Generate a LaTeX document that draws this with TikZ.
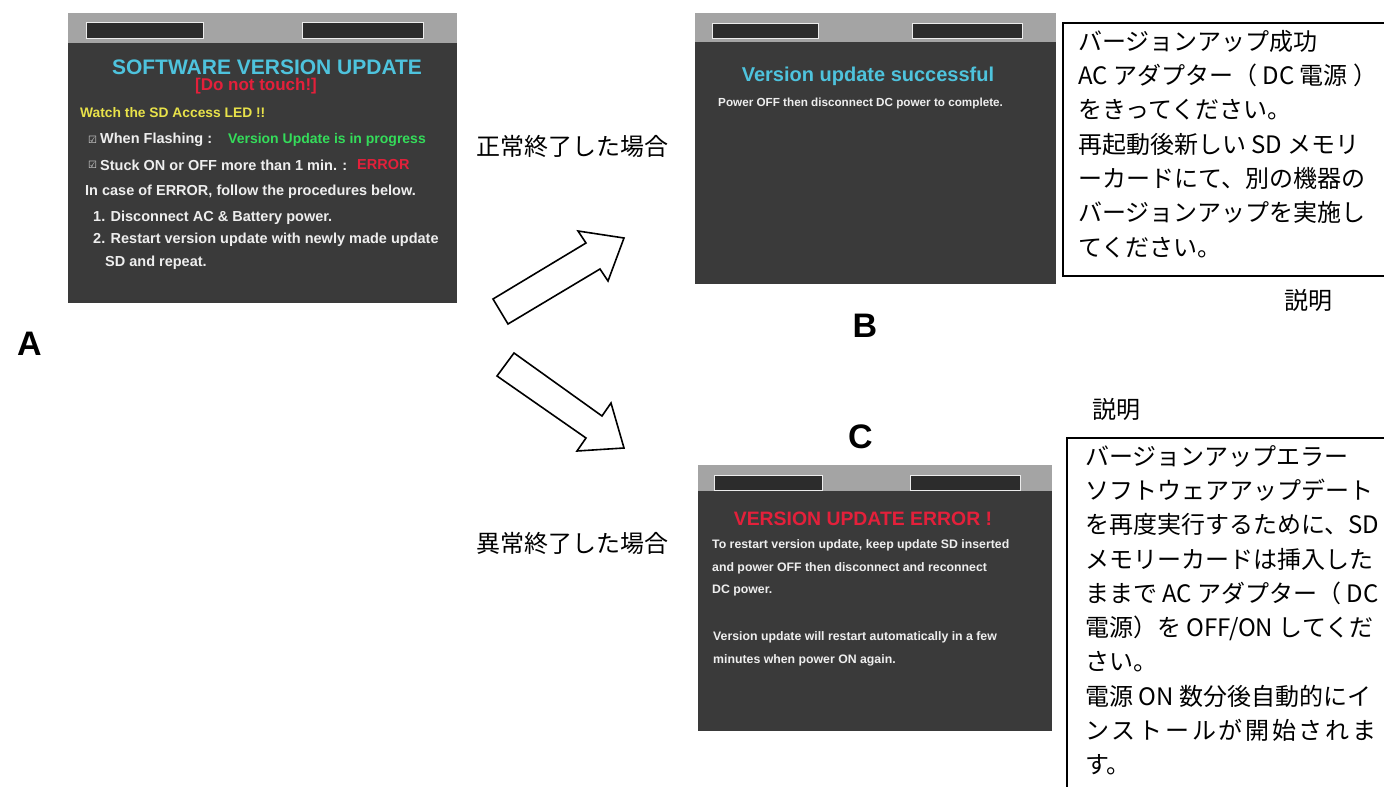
\documentclass[tikz,border=0pt]{standalone}
\usepackage{fontspec}
\setmainfont{Liberation Sans}
\newfontfamily\jpfont{Noto Sans CJK JP}
\newfontfamily\symfont{DejaVu Sans}
\newcommand{\fsz}[1]{\fontsize{#1}{#1}\selectfont}
\definecolor{scrbg}{HTML}{3A3A3A}
\definecolor{scrbar}{HTML}{A4A4A4}
\definecolor{slotc}{HTML}{2C2C2C}
\definecolor{tcyan}{HTML}{4EC3DD}
\definecolor{tred}{HTML}{E3203A}
\definecolor{tyellow}{HTML}{E8E24A}
\definecolor{tgreen}{HTML}{34DC5A}
\definecolor{twhite}{HTML}{EEEEEE}
\tikzset{
  scr/.style={fill=scrbg},
  barc/.style={fill=scrbar},
  slotbox/.style={fill=slotc, draw=white!85!gray, line width=0.8pt},
  stxt/.style={inner sep=0pt, anchor=west, text=twhite, font=\bfseries\fsz{14.5}},
  btxt/.style={inner sep=0pt, anchor=west, text=twhite, font=\bfseries\fsz{12.3}},
  ttl/.style={inner sep=0pt, font=\bfseries\fsz{20}},
  chk/.style={inner sep=0pt, anchor=west, text=twhite!80!gray, font=\symfont\fsz{10}},
  jlbl/.style={inner sep=0pt, font=\jpfont\fsz{24}},
  jbox/.style={inner sep=0pt, anchor=north west, align=left, font=\jpfont\fontsize{24}{34.3}\selectfont},
  letter/.style={inner sep=0pt, font=\bfseries\fsz{34}},
  descbox/.style={draw=black, line width=1.5pt},
  blockarrow/.style={draw=black, fill=white, line width=1.6pt, line join=miter}
}
\begin{document}
\begin{tikzpicture}[x=1pt,y=-1pt]
\useasboundingbox (0,0) rectangle (1384,787);
\fill[white] (0,0) rectangle (1384,787);

% ---------- Screen A ----------
\fill[scr] (68,13) rectangle (457,303);
\fill[barc] (68,13) rectangle (457,43);
\filldraw[slotbox] (86,22) rectangle (203,38);
\filldraw[slotbox] (302,22) rectangle (423,38);
\node[ttl, text=tcyan, font=\bfseries\fsz{21}] (aTitle) at (267,67) {SOFTWARE VERSION UPDATE};
\node[inner sep=0pt, text=tred, font=\bfseries\fsz{17}] (aTouch) at (256,86) {[Do not touch!]};
\node[stxt, text=tyellow, font=\bfseries\fsz{13.8}] (aWatch) at (80,113) {Watch the SD Access LED !!};
\node[chk] (aChk1) at (88,140) {☑};
\node[stxt] (aFlash) at (100,140) {When Flashing :};
\node[stxt, text=tgreen, font=\bfseries\fsz{14}] (aProg) at (228,140) {Version Update is in progress};
\node[chk] (aChk2) at (88,165) {☑};
\node[stxt] (aStuck) at (100,165) {Stuck ON or OFF more than 1 min. :};
\node[stxt, text=tred] (aErr) at (357,165) {ERROR};
\node[stxt] (aCase) at (85,192) {In case of ERROR, follow the procedures below.};
\node[stxt] (aOne) at (93,218) {1. Disconnect AC \& Battery power.};
\node[stxt] (aTwo) at (93,240) {2. Restart version update with newly made update};
\node[stxt] (aSD) at (105,263) {SD and repeat.};

% ---------- Screen B ----------
\fill[scr] (695,13) rectangle (1056,284);
\fill[barc] (695,13) rectangle (1056,42);
\filldraw[slotbox] (712,23) rectangle (818,38);
\filldraw[slotbox] (912,23) rectangle (1022,38);
\node[ttl, text=tcyan] (bTitle) at (868,76) {Version update successful};
\node[btxt, font=\bfseries\fsz{11.7}] (bPower) at (718,103) {Power OFF then disconnect DC power to complete.};

% ---------- Screen C ----------
\fill[scr] (698,465) rectangle (1052,731);
\fill[barc] (698,465) rectangle (1052,491);
\filldraw[slotbox] (714,475) rectangle (822,490);
\filldraw[slotbox] (910,475) rectangle (1020,490);
\node[ttl, text=tred, font=\bfseries\fsz{19.4}] (cTitle) at (863,519) {VERSION UPDATE ERROR !};
\node[btxt] (cL1) at (712,545) {To restart version update, keep update SD inserted};
\node[btxt] (cL2) at (712,568) {and power OFF then disconnect and reconnect};
\node[btxt] (cL3) at (712,590) {DC power.};
\node[btxt] (cL4) at (713,637) {Version update will restart automatically in a few};
\node[btxt] (cL5) at (713,660) {minutes when power ON again.};

% ---------- Letters and labels ----------
\node[letter] (lA) at (29.5,344) {A};
\node[letter] (lB) at (865,326) {B};
\node[letter] (lC) at (860.5,437) {C};
\node[jlbl] (okLbl) at (572,146) {正常終了した場合};
\node[jlbl] (ngLbl) at (572,543) {異常終了した場合};
\node[jlbl] (descB) at (1308.5,300) {説明};
\node[jlbl] (descC) at (1116.5,409) {説明};

% ---------- Description boxes ----------
\begin{scope}
\clip (0,0) rectangle (1384,787);
\draw[descbox] (1063,23) rectangle (1400,276);
\draw[descbox] (1067,438) rectangle (1400,800);
\end{scope}
\node[jbox] (boxB) at (1078,30) {バージョンアップ成功\\
AC アダプター（ DC 電源 ）\\
をきってください。\\
再起動後新しい SD メモリ\\
ーカードにて、別の機器の\\
バージョンアップを実施し\\
てください。};
\node[jbox] (boxC) at (1085,445) {バージョンアップエラー\\
ソフトウェアアップデート\\
を再度実行するために、SD\\
メモリーカードは挿入した\\
ままで AC アダプター（ DC\\
電源）を OFF/ON してくだ\\
さい。\\
電源 ON 数分後自動的にイ\\
\hbox to 291pt{ン\hfil ス\hfil ト\hfil ー\hfil ル\hfil が\hfil 開\hfil 始\hfil さ\hfil れ\hfil ま}\\
す。};

% ---------- Block arrows ----------
\coordinate (upTail) at (493,299);
\coordinate (dnTail) at (514,353);
\draw[blockarrow] (upTail) -- (508,324) -- (600,269) -- (608,281) -- (624,238) -- (578,231) -- (586,243) -- cycle;
\draw[blockarrow] (dnTail) -- (497,376) -- (586,438) -- (577,451) -- (624,448) -- (611,403) -- (602,416) -- cycle;
\end{tikzpicture}
\end{document}
